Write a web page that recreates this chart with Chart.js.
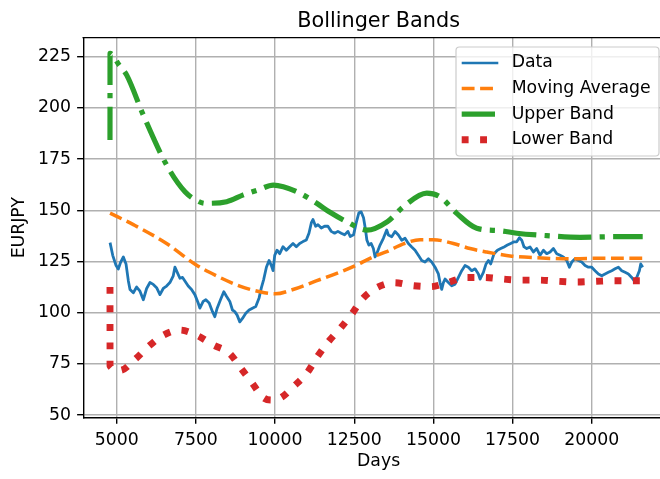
<!DOCTYPE html>
<html><head><meta charset="utf-8">
<script src="https://cdn.jsdelivr.net/npm/chart.js@4.4.0/dist/chart.umd.min.js"></script>
<style>
html,body{margin:0;padding:0;background:#fff;overflow:hidden;width:660px;height:479px;}
#wrap{position:relative;width:660px;height:479px;overflow:hidden;background:#fff;}
canvas{position:absolute;left:0;top:0;}
</style></head><body>
<div id="wrap"><canvas id="c" width="700" height="479"></canvas></div>
<script>
const chartTitle = 'Bollinger Bands';
const xLabel = 'Days';
const yLabel = 'EURJPY';
const seriesNames = ['Data', 'Moving Average', 'Upper Band', 'Lower Band'];
const xTicks = [5000, 7500, 10000, 12500, 15000, 17500, 20000];
const yTicks = [50, 75, 100, 125, 150, 175, 200, 225];

const dataDays = [4790,4874,4980,5050,5126,5210,5294,5368,5420,5525,5630,5735,5840,5945,6050,6155,6260,6365,6470,6575,6680,6786,6838,6912,6996,7080,7153,7258,7363,7468,7573,7626,7731,7815,7920,8025,8098,8172,8277,8382,8466,8571,8655,8729,8803,8887,8971,9076,9181,9286,9391,9496,9569,9643,9727,9811,9884,9937,9989,10063,10147,10252,10357,10462,10567,10672,10777,10882,10987,11071,11145,11197,11281,11355,11460,11565,11670,11775,11880,11985,12090,12195,12300,12374,12479,12563,12647,12721,12794,12857,12899,12962,13036,13105,13158,13210,13316,13421,13526,13579,13684,13790,13895,14000,14105,14210,14316,14421,14526,14632,14737,14842,14947,15053,15158,15210,15263,15316,15368,15474,15579,15684,15790,15895,16000,16105,16210,16316,16421,16474,16579,16663,16737,16811,16916,17021,17126,17232,17337,17442,17547,17632,17716,17790,17863,17947,18053,18158,18263,18369,18474,18579,18685,18790,18895,19000,19105,19211,19295,19369,19474,19579,19684,19790,19895,20000,20105,20211,20316,20421,20526,20632,20737,20842,20948,21053,21158,21263,21337,21421,21505,21547,21610];
const dataValues = [134.2,128,123,121.3,124.7,127.2,123.8,115.5,111.3,109.7,112.5,110.5,106.3,111.8,114.7,113.8,112.2,108.8,111.8,113,114.7,118,122.2,119.7,116.8,117.2,115.5,113,111.3,108.8,104.7,102.2,105.5,106.3,104.7,100.5,98,102.2,106.3,110.2,108,105.5,101.3,100.5,98.8,95.5,97.2,99.7,101.3,102.2,103,107.2,112.2,116.3,122.2,125.5,123,120.5,128,130.5,128.8,132.2,130.5,132.2,133.8,132.2,133.8,134.7,135.5,138.8,143.8,145.5,142.2,143,141.3,142.2,142.2,139.7,138.8,139.7,138.8,138,139.7,137.2,138,143.8,148.8,149.2,146.3,140.5,135.5,133,133.8,131.3,127.2,128.8,133,136.3,140.4,137.9,137.1,139.6,137.9,135.4,136.3,133.8,132.1,130.5,128,125.5,124.7,126.3,124.7,122.2,118.9,114.7,111.4,114.7,116.4,114.7,113.1,113.9,117.2,120.5,123,122.2,120.5,121.4,118.9,116.4,119.7,123.8,125.5,123.8,128.8,130.5,131.3,132.1,133,133.8,134.6,134.6,136.6,135.4,132.1,131.3,132.1,129.6,131.3,128,130.5,128.8,129.6,131.3,128.8,128,127.2,125.5,122.2,124.7,126.3,125.5,124.7,123,122.2,122.2,120.5,118.9,118,118.9,119.7,120.5,121.4,122.2,120.5,119.7,118.9,117.2,115.6,117.2,120.5,123.8,122.2];

const maDays = [4790,5525,6575,7500,8150,8887,9520,10010,10567,11300,12040,12500,13090,13526,14053,14579,15000,15632,16158,16684,17474,18263,19316,20370,21610];
const maValues = [148.6,143,133.8,123.4,118,113,110.2,109.2,111.3,115.5,119.7,122.7,127.2,129.8,133.6,135.6,135.6,133.8,131.3,129.6,127.6,126.8,126.3,126.6,126.6];

const upperDays = [4788,4790,5073,5316,5840,6579,7157,7504,7788,8474,8998,9472,9945,10261,10789,11316,11736,12263,12895,13550,14051,14790,15210,15737,16369,17105,17632,18579,19630,20683,21610];
const upperValues = [184.3,226.6,221,216,196.5,172,159,155,153.4,154.2,157.5,160,162.3,161.5,158.3,153.4,149,144.4,140.3,144.5,151.7,158.4,156.6,148.5,141.2,140,138.8,137.6,136.8,137.1,137.1];

const lowerDays = [4788,4790,5107,5578,5998,6453,6999,7545,8051,8556,8916,9282,9630,9910,10189,10609,11020,11335,11683,12074,12440,12756,13211,13767,14348,14916,15472,16031,16599,17190,17768,18346,18946,19527,20105,20683,21283,21610];
const lowerValues = [112.5,74,71.8,77.2,83.4,88.8,91.5,88.8,84.2,80.2,73,65.5,58.5,57.3,58.5,64.3,70.8,78.5,85.8,92.6,99.7,106.7,112.2,114.6,113.2,112.7,114.8,117.2,117.2,116.4,115.9,115.9,115.3,115,115.3,115.6,115.6,115.6];

const colors = ['#1f77b4', '#ff7f0e', '#2ca02c', '#d62728'];
const widths = [2.8, 3.5, 5.2, 6.9];
const dashes = [[], [12.85, 5.55], [33.3, 8.3, 5.2, 8.3], [6.9, 11.5]];

const FONT = 'DejaVu Sans';
const toPts = (xs, ys) => xs.map((x, i) => ({x: x, y: ys[i]}));

const frameAndLegend = {
  id: 'frameAndLegend',
  afterLayout(chart) {
    const t = chart.titleBlock;
    const a = chart.chartArea;
    if (t) { t.left = a.left; t.right = a.right; t.width = a.right - a.left; }
  },
  afterDraw(chart) {
    const ctx = chart.ctx;
    const a = chart.chartArea;
    ctx.save();
    ctx.strokeStyle = '#000';
    ctx.lineWidth = 1.4;
    ctx.setLineDash([]);
    ctx.beginPath();
    ctx.moveTo(a.left - 0.7, a.top);
    ctx.lineTo(a.right, a.top);
    ctx.stroke();
    const bx = 456, by = 47, bw = 203, bh = 109, r = 3.5;
    ctx.beginPath();
    ctx.moveTo(bx + r, by);
    ctx.lineTo(bx + bw - r, by);
    ctx.arcTo(bx + bw, by, bx + bw, by + r, r);
    ctx.lineTo(bx + bw, by + bh - r);
    ctx.arcTo(bx + bw, by + bh, bx + bw - r, by + bh, r);
    ctx.lineTo(bx + r, by + bh);
    ctx.arcTo(bx, by + bh, bx, by + bh - r, r);
    ctx.lineTo(bx, by + r);
    ctx.arcTo(bx, by, bx + r, by, r);
    ctx.closePath();
    ctx.fillStyle = 'rgba(255,255,255,0.8)';
    ctx.fill();
    ctx.strokeStyle = '#cccccc';
    ctx.lineWidth = 1.2;
    ctx.stroke();
    const rows = [63, 88.6, 114.2, 139.8];
    ctx.font = '17.3px "' + FONT + '"';
    ctx.textBaseline = 'middle';
    ctx.textAlign = 'left';
    chart.data.datasets.forEach((ds, i) => {
      const y = rows[i];
      ctx.beginPath();
      ctx.strokeStyle = colors[i];
      ctx.lineWidth = i === 0 ? 2.6 : widths[i];
      ctx.lineCap = 'butt';
      ctx.setLineDash(dashes[i]);
      ctx.moveTo(461.7, y);
      ctx.lineTo(498.3, y);
      ctx.stroke();
      ctx.setLineDash([]);
      ctx.fillStyle = '#000';
      ctx.fillText(ds.label, 511.7, y);
    });
    ctx.restore();
  }
};

const tickFont = {family: FONT, size: 17.3};

new Chart(document.getElementById('c'), {
  type: 'scatter',
  data: {
    datasets: [
      {label: seriesNames[0], data: toPts(dataDays, dataValues), showLine: true, borderColor: colors[0], borderWidth: widths[0], borderDash: dashes[0], pointRadius: 0, borderJoinStyle: 'round', order: 4},
      {label: seriesNames[1], data: toPts(maDays, maValues), showLine: true, borderColor: colors[1], borderWidth: widths[1], borderDash: dashes[1], pointRadius: 0, borderJoinStyle: 'round', cubicInterpolationMode: 'monotone', order: 3},
      {label: seriesNames[2], data: toPts(upperDays, upperValues), showLine: true, borderColor: colors[2], borderWidth: widths[2], borderDash: dashes[2], pointRadius: 0, borderJoinStyle: 'round', cubicInterpolationMode: 'monotone', order: 2},
      {label: seriesNames[3], data: toPts(lowerDays, lowerValues), showLine: true, borderColor: colors[3], borderWidth: widths[3], borderDash: dashes[3], pointRadius: 0, borderJoinStyle: 'round', cubicInterpolationMode: 'monotone', order: 1}
    ]
  },
  options: {
    responsive: false,
    animation: false,
    devicePixelRatio: 1,
    layout: {padding: {left: 0, right: 26, top: 0, bottom: 0}},
    plugins: {
      legend: {display: false},
      tooltip: {enabled: false},
      title: {display: true, text: chartTitle, color: '#000', font: {family: FONT, size: 20.8, weight: 'normal'}, padding: {top: 9.4, bottom: 3.3}}
    },
    scales: {
      x: {
        type: 'linear', min: 3942, max: 22598,
        afterBuildTicks: s => { s.ticks = xTicks.map(v => ({value: v})); },
        afterFit: s => { s.height = 61.3; },
        ticks: {font: tickFont, color: '#000', padding: 6.1, maxRotation: 0, autoSkip: false, callback: v => String(v)},
        grid: {color: '#b0b0b0', lineWidth: 1.4, tickLength: 6.1, tickColor: '#000', tickWidth: 1.4},
        border: {color: '#000', width: 1.4},
        title: {display: true, text: xLabel, color: '#000', font: tickFont, padding: {top: 0, bottom: 7}}
      },
      y: {
        type: 'linear', min: 48.7, max: 234.3,
        afterBuildTicks: s => { s.ticks = yTicks.map(v => ({value: v})); },
        afterFit: s => { s.width = 83.2; },
        ticks: {font: tickFont, color: '#000', padding: 6.1, autoSkip: false, callback: v => String(v)},
        grid: {color: '#b0b0b0', lineWidth: 1.4, tickLength: 6.1, tickColor: '#000', tickWidth: 1.4},
        border: {color: '#000', width: 1.4},
        title: {display: true, text: yLabel, color: '#000', font: tickFont, padding: {top: 9.5, bottom: 0}}
      }
    }
  },
  plugins: [frameAndLegend]
});
</script>
</body></html>
